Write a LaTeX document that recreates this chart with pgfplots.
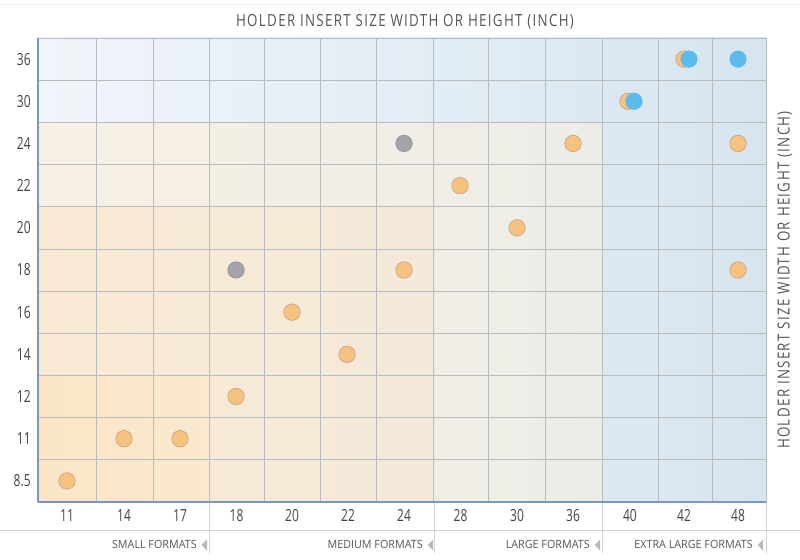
\documentclass[border=0pt]{standalone}
\usepackage{fontspec}
\setmainfont{Open Sans}[FakeStretch=0.72]
\newfontfamily\titlefont{Open Sans}[FakeStretch=0.8, LetterSpace=8]
\newfontfamily\groupfont{Open Sans}[FakeStretch=0.95]
\usepackage{pgfplots}
\pgfplotsset{compat=1.18}

\definecolor{orangefill}{HTML}{F5C27F}
\definecolor{orangeedge}{HTML}{C9A783}
\definecolor{greyfill}{HTML}{A3A5AA}
\definecolor{bluefill}{HTML}{5BBBEC}
\definecolor{gridc}{HTML}{B9BCBF}
\definecolor{tickc}{HTML}{444444}
\definecolor{labc}{HTML}{555555}
\definecolor{axblue}{HTML}{7B98B8}
\definecolor{sepc}{HTML}{D2D2D2}
\definecolor{xlL}{HTML}{F0F5FA}
\definecolor{xlR}{HTML}{D7E5EF}
\definecolor{lgL}{HTML}{F8F0E4}
\definecolor{lgR}{HTML}{ECECE7}
\definecolor{mdL}{HTML}{FAEAD5}
\definecolor{mdR}{HTML}{F3E8DA}
\definecolor{smL}{HTML}{FBE5C6}
\definecolor{smR}{HTML}{FAE8CF}

\begin{document}
\begin{tikzpicture}
\begin{axis}[
    at={(28.5pt,43.5pt)}, anchor=south west,
    scale only axis, width=546pt, height=348pt,
    set layers,
    xmin=-0.5, xmax=12.5, ymin=-0.5, ymax=10.5,
    % column centres and borders (columns are not quite even)
    xtick={0.018,1.036,2.036,3.045,4.036,5.036,6.036,7.045,8.054,9.054,10.071,11.036,12.0},
    xticklabels={11,14,17,18,20,22,24,28,30,36,40,42,48},
    minor xtick={0.536,1.554,2.554,3.536,4.536,5.536,6.554,7.536,8.563,9.58,10.58,11.536},
    ytick={0,...,10},
    yticklabels={8.5,11,12,14,16,18,20,22,24,30,36},
    minor ytick={0.5,1.5,...,9.5},
    xminorgrids, yminorgrids,
    minor grid style={gridc, line width=0.6pt},
    major tick length=0pt, minor tick length=0pt,
    axis line style={gridc, line width=0.6pt},
    tick label style={font=\fontsize{12.5}{13}\selectfont, text=tickc},
    xticklabel style={yshift=-2pt},
    yticklabel style={xshift=-2pt},
]

% background zones (extra large, large, medium, small)
\addplot[on layer=axis background, draw=none, left color=xlL, right color=xlR]
    coordinates {(-0.5,-0.5) (12.5,-0.5) (12.5,10.5) (-0.5,10.5)};
\addplot[on layer=axis background, draw=none, left color=lgL, right color=lgR]
    coordinates {(-0.5,-0.5) (9.58,-0.5) (9.58,8.5) (-0.5,8.5)};
\addplot[on layer=axis background, draw=none, left color=mdL, right color=mdR]
    coordinates {(-0.5,-0.5) (6.554,-0.5) (6.554,6.5) (-0.5,6.5)};
\addplot[on layer=axis background, draw=none, left color=smL, right color=smR]
    coordinates {(-0.5,-0.5) (2.554,-0.5) (2.554,2.5) (-0.5,2.5)};

% standard sizes
\addplot[only marks, mark=*, mark size=6.2pt,
    mark options={fill=orangefill, draw=orangeedge, line width=0.5pt}]
    coordinates {
    (0.018,0) (1.036,1) (2.036,1) (3.036,2) (4.036,4) (5.018,3) (6.036,5)
    (7.036,7) (8.054,6) (9.054,8) (10.036,9) (11.036,10) (12.0,8) (12.0,5)
};
\addplot[only marks, mark=*, mark size=6.2pt,
    mark options={fill=greyfill, draw=greyfill!85!black, line width=0.4pt}]
    coordinates {(3.036,5) (6.036,8)};
\addplot[only marks, mark=*, mark size=6.2pt,
    mark options={fill=bluefill, draw=bluefill, line width=0.4pt}]
    coordinates {(10.143,9) (11.125,10) (12.0,10)};
\end{axis}

\begin{scope}[x=0.75pt,y=0.75pt]
\draw[black!7, line width=0.75pt] (0,555) -- (800,555);
% axis accents
\draw[axblue, line width=1.2pt] (38,58) -- (38,522);
\draw[axblue, line width=1.8pt] (38,58) -- (766,58);

% format groups below the x axis
\draw[sepc, line width=0.6pt] (0,30) -- (800,30);
\foreach \xx in {209.5,434,602.5,766}
    \draw[sepc, line width=0.6pt] (\xx,57) -- (\xx,7);
\foreach \xx/\txt in {197/SMALL FORMATS, 423/MEDIUM FORMATS, 590/LARGE FORMATS, 753/EXTRA LARGE FORMATS} {
    \node[anchor=base east, inner sep=0pt, text=labc, font=\groupfont\fontsize{8.5}{9}\selectfont] at (\xx,11) {\txt};
    \fill[gray!55] (\xx+10,20.5) -- (\xx+10,9.5) -- (\xx+4.5,15) -- cycle;
}

% titles
\node[text=labc, font=\titlefont\fontsize{12.5}{13}\selectfont] at (405,538) {HOLDER INSERT SIZE WIDTH OR HEIGHT (INCH)};
\node[rotate=90, text=labc, font=\titlefont\fontsize{12.5}{13}\selectfont] at (785,280) {HOLDER INSERT SIZE WIDTH OR HEIGHT (INCH)};

\pgfresetboundingbox
\path[use as bounding box] (0,0) rectangle (800,560);
\end{scope}
\end{tikzpicture}
\end{document}
